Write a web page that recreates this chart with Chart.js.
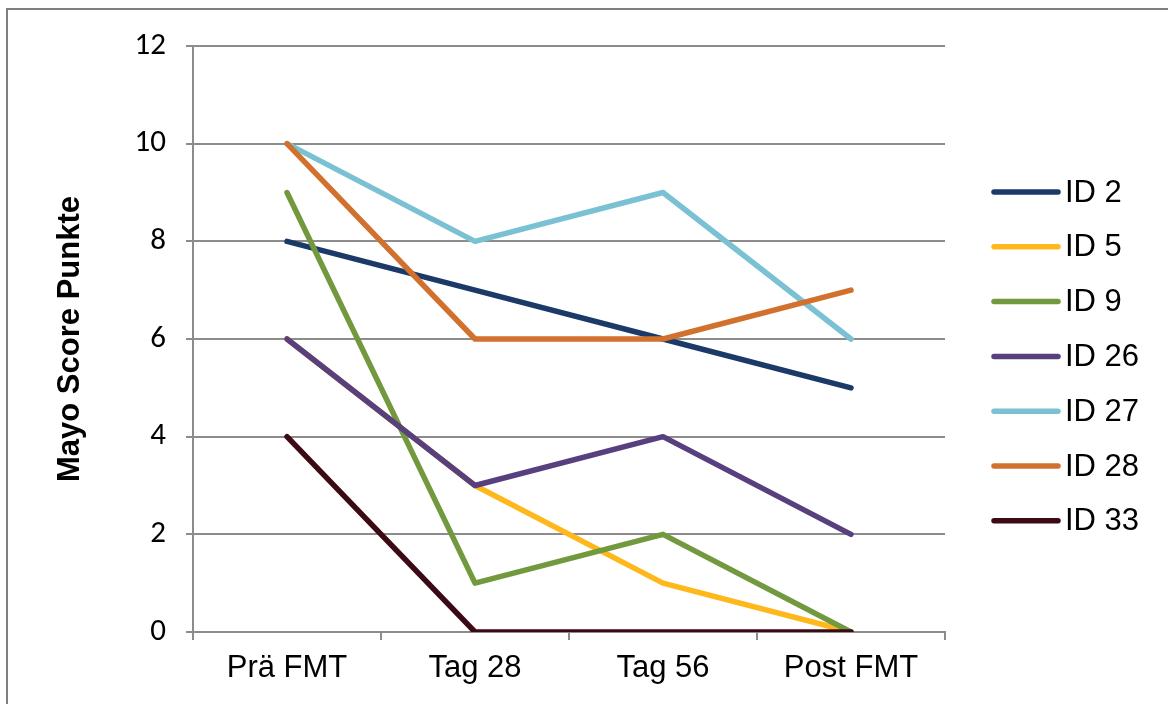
<!DOCTYPE html>
<html>
<head>
<meta charset="utf-8">
<script src="https://cdn.jsdelivr.net/npm/chart.js@4"></script>
<style>
  body { margin: 0; width: 1168px; height: 704px; overflow: hidden; background: #fff; }
  #frame { position: absolute; left: 6px; top: 8px; width: 1300px; height: 800px; border: 2px solid #7f7f7f; }
  #wrap { position: absolute; left: 0; top: 0; width: 1168px; height: 704px; }
</style>
</head>
<body>
<div id="frame"></div>
<div id="wrap"><canvas id="chart"></canvas></div>
<script>
const categories = ["Prä FMT", "Tag 28", "Tag 56", "Post FMT"];
const seriesNames = ["ID 2", "ID 5", "ID 9", "ID 26", "ID 27", "ID 28", "ID 33"];
const id2 = [8, 7, 6, 5];
const id5 = [6, 3, 1, 0];
const id9 = [9, 1, 2, 0];
const id26 = [6, 3, 4, 2];
const id27 = [10, 8, 9, 6];
const id28 = [10, 6, 6, 7];
const id33 = [4, 0, 0, 0];
const colors = ["#1b3a68", "#ffb81c", "#72993e", "#58407f", "#7ac1d4", "#d2702e", "#3c0a14"];
const yTicks = [0, 2, 4, 6, 8, 10, 12];

const values = [id2, id5, id9, id26, id27, id28, id33];

let datasets = values.map((v, i) => ({
	label: seriesNames[i],
	data: v,
	borderColor: colors[i],
	backgroundColor: colors[i],
	borderWidth: 5.5,
	pointRadius: 0,
	tension: 0,
	borderJoinStyle: "round",
	borderCapStyle: "round",
	order: values.length - i,
}));

// legend drawn by hand so it sits where Excel put it
const sideLegend = {
	id: "sideLegend",
	afterDraw(chart) {
		const ctx = chart.ctx;
		ctx.save();
		chart.data.datasets.forEach((ds, i) => {
			let y = 192 + i * 54.8;
			ctx.strokeStyle = ds.borderColor;
			ctx.lineWidth = 5.5;
			ctx.lineCap = "round";
			ctx.beginPath();
			ctx.moveTo(994, y);
			ctx.lineTo(1058, y);
			ctx.stroke();
			ctx.fillStyle = "#000";
			ctx.font = "31px 'Liberation Sans', Arial";
			ctx.textBaseline = "middle";
			ctx.fillText(ds.label, 1065, y + 1);
		});
		ctx.restore();
	},
};

let config = {
	type: "line",
	data: { labels: categories, datasets: datasets },
	options: {
		responsive: false,
		animation: false,
		layout: { padding: { top: 46, right: 223, left: 0, bottom: 0 } },
		plugins: {
			legend: { display: false },
			tooltip: { enabled: false },
		},
		scales: {
			x: {
				offset: true,
				grid: {
					offset: true,
					drawOnChartArea: false,
					drawTicks: true,
					tickLength: 8,
					color: "#8c8c8c",
					lineWidth: 2,
				},
				border: { color: "#8c8c8c", width: 2 },
				ticks: {
					color: "#000",
					padding: 10,
					font: { family: "'Liberation Sans', Arial", size: 31 },
				},
				afterFit(scale) {
					scale.height = 72;
				},
			},
			y: {
				min: 0,
				max: 12,
				afterBuildTicks(scale) {
					scale.ticks = yTicks.map((v) => ({ value: v }));
				},
				grid: {
					color: "#8c8c8c",
					lineWidth: 2,
					tickLength: 7,
				},
				border: { color: "#8c8c8c", width: 2 },
				ticks: {
					color: "#000",
					padding: 20,
					font: { family: "Carlito, 'Open Sans'", size: 31 },
				},
				title: {
					display: true,
					text: "Mayo Score Punkte",
					color: "#000",
					padding: { top: 52, bottom: 0 },
					font: { family: "'Liberation Sans', Arial", size: 31, weight: "bold" },
				},
				afterFit(scale) {
					scale.width = 193;
				},
			},
		},
	},
	plugins: [sideLegend],
};

const canvas = document.getElementById("chart");
canvas.width = 1168;
canvas.height = 704;
const chart = new Chart(canvas, config);
</script>
</body>
</html>
